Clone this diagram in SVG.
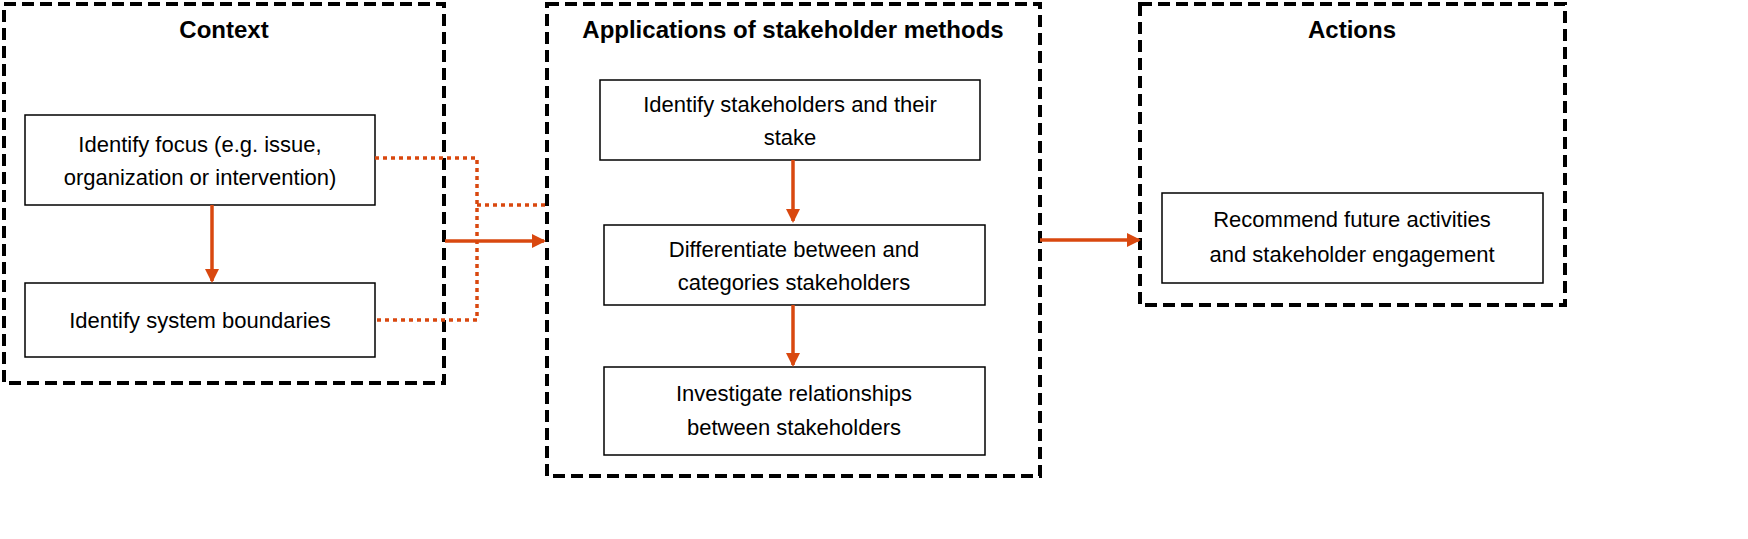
<svg xmlns="http://www.w3.org/2000/svg" width="1748" height="539" viewBox="0 0 1748 539">
<defs>
<style>
.outer{fill:#fff;stroke:#000;stroke-width:4;stroke-dasharray:12,6}
.box{fill:#fff;stroke:#000;stroke-width:1.5}
.t{font-family:"Liberation Sans",Arial,sans-serif;font-size:22px;fill:#000;text-anchor:middle}
.h{font-family:"Liberation Sans",Arial,sans-serif;font-size:24px;font-weight:bold;fill:#000;text-anchor:middle}
.ar{stroke:#d9480f;stroke-width:3.5;fill:none}
.dot{stroke:#d9480f;stroke-width:3.5;fill:none;stroke-dasharray:4,4}
</style>
<marker id="a" markerWidth="14" markerHeight="14" refX="12" refY="7" orient="auto" markerUnits="userSpaceOnUse" viewBox="0 0 14 14"><path d="M0,0L14,7L0,14z" fill="#d9480f"/></marker>
</defs>
<rect width="1748" height="539" fill="#fff"/>
<g id="context"><rect class="outer" x="4" y="4" width="440" height="379"/><text class="h" x="224" y="38">Context</text></g>
<g id="applications"><rect class="outer" x="547" y="4" width="493" height="472"/><text class="h" x="793" y="38">Applications of stakeholder methods</text></g>
<g id="actions"><rect class="outer" x="1140" y="4" width="425" height="301"/><text class="h" x="1352" y="38">Actions</text></g>
<g id="focus"><rect class="box" x="25" y="115" width="350" height="90"/><text class="t" x="200" y="152">Identify focus (e.g. issue,</text><text class="t" x="200" y="185">organization or intervention)</text></g>
<g id="boundaries"><rect class="box" x="25" y="283" width="350" height="74"/><text class="t" x="200" y="328">Identify system boundaries</text></g>
<g id="identify"><rect class="box" x="600" y="80" width="380" height="80"/><text class="t" x="790" y="112">Identify stakeholders and their</text><text class="t" x="790" y="145">stake</text></g>
<g id="differentiate"><rect class="box" x="604" y="225" width="381" height="80"/><text class="t" x="794" y="257">Differentiate between and</text><text class="t" x="794" y="290">categories stakeholders</text></g>
<g id="investigate"><rect class="box" x="604" y="367" width="381" height="88"/><text class="t" x="794" y="401">Investigate relationships</text><text class="t" x="794" y="435">between stakeholders</text></g>
<g id="recommend"><rect class="box" x="1162" y="193" width="381" height="90"/><text class="t" x="1352" y="227">Recommend future activities</text><text class="t" x="1352" y="262">and stakeholder engagement</text></g>
<g id="connectors">
<path class="dot" d="M375,158H477V320H375"/>
<path class="dot" d="M477,205H545"/>
<path class="ar" d="M445,241H544" marker-end="url(#a)"/>
<path class="ar" d="M212,205V281" marker-end="url(#a)"/>
<path class="ar" d="M793,160V221" marker-end="url(#a)"/>
<path class="ar" d="M793,305V365" marker-end="url(#a)"/>
<path class="ar" d="M1040,240H1139" marker-end="url(#a)"/>
</g>
</svg>
